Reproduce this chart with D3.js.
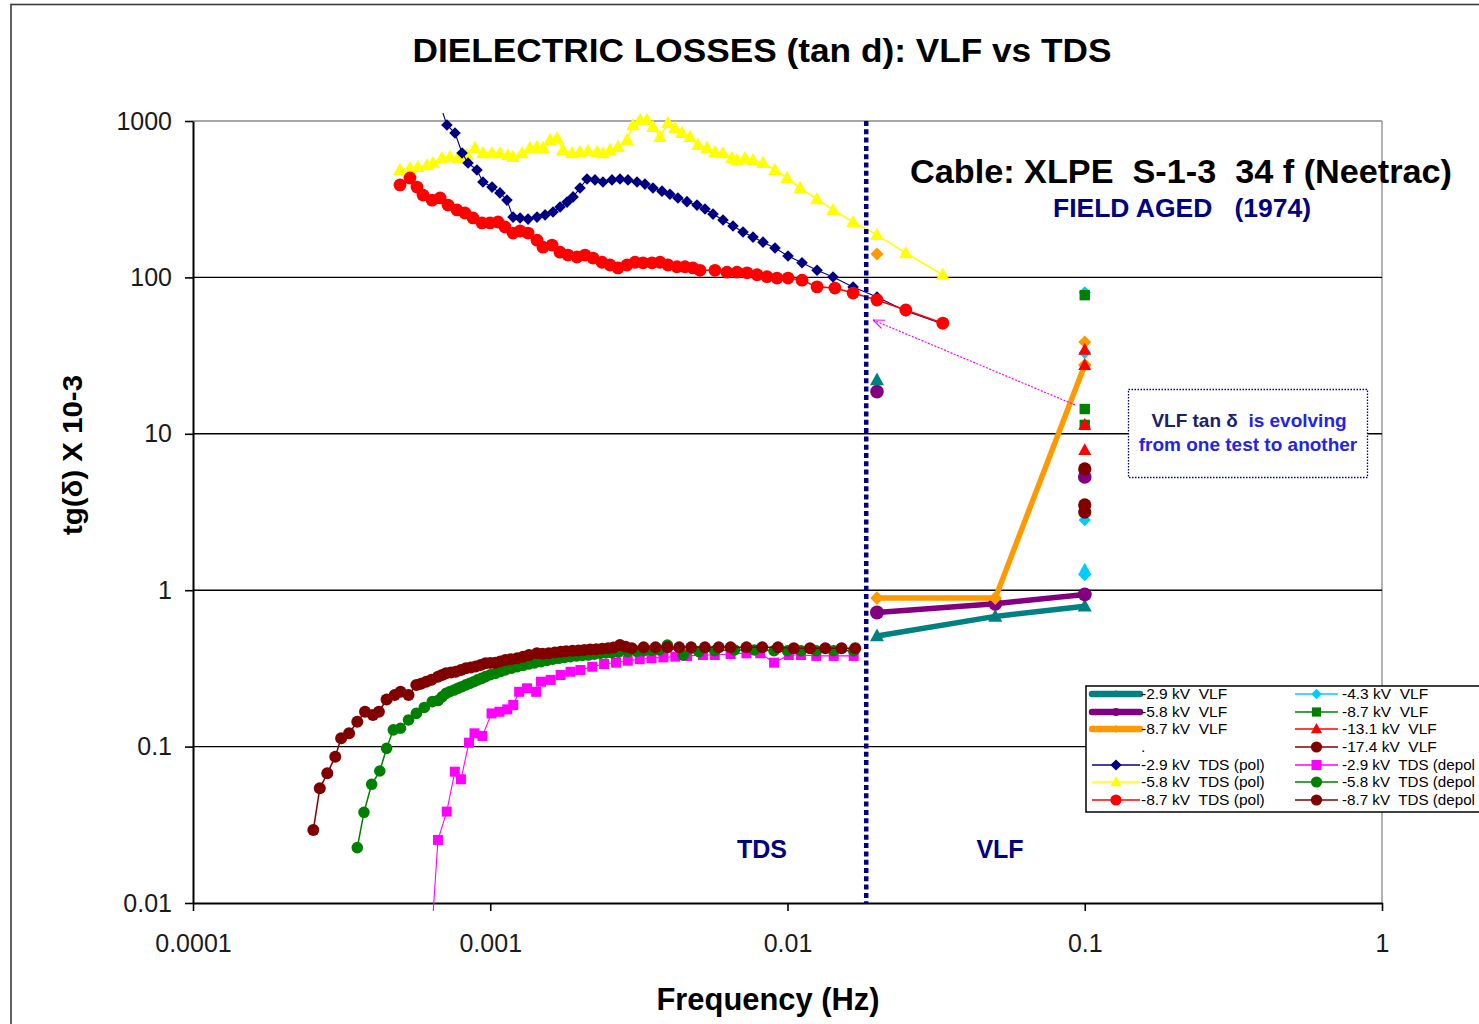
<!DOCTYPE html>
<html>
<head>
<meta charset="utf-8">
<script src="https://cdn.jsdelivr.net/npm/d3@7"></script>
<style>
html, body { margin: 0; padding: 0; background: #fff; }
svg { display: block; font-family: "Liberation Sans", Arial, Helvetica, sans-serif; }
svg text { white-space: pre; }
</style>
</head>
<body>
<svg id="chart" width="1479" height="1024"></svg>
<script>
// ---- Data: [frequency (Hz), tan(delta) x 10^-3] ----

// TDS polarisation
const tdsPol29 = [
  [0.000693,1125],[0.000715,942],[0.000761,838],[0.000804,624],[0.000842,539],[0.000902,486],
  [0.000945,407],[0.001014,378],[0.001078,347],[0.001138,312],[0.001193,243],[0.00126,240],
  [0.00134,236],[0.001437,243],[0.001529,251],[0.001626,262],[0.001717,282],[0.001813,303],
  [0.001899,327],[0.002004,373],[0.002116,426],[0.002251,420],[0.002394,407],[0.002568,420],
  [0.002732,426],[0.002906,420],[0.003117,407],[0.003315,395],[0.003527,373],[0.003782,356],
  [0.004023,340],[0.00428,322],[0.00459,305],[0.00496,290],[0.005278,274],[0.005616,254],
  [0.006067,233],[0.006557,213],[0.007085,195],[0.007655,181],[0.008273,168],[0.009078,154],
  [0.01004,137],[0.01119,124],[0.01257,111],[0.01423,100.7],[0.01662,86.9],[0.02,75],
  [0.025,61],[0.0333,50.4]
];
const tdsPol58 = [
  [0.000497,486],[0.000537,500],[0.000571,508],[0.000613,523],[0.000642,539],[0.000688,580],
  [0.000732,589],[0.000779,580],[0.000835,606],[0.000888,672],[0.000945,624],[0.001014,624],
  [0.001078,624],[0.001147,606],[0.001193,589],[0.001279,624],[0.00136,672],[0.001437,682],
  [0.001505,672],[0.001589,756],[0.001677,778],[0.001757,653],[0.001884,624],[0.002004,634],
  [0.002133,643],[0.002287,634],[0.002394,624],[0.002529,653],[0.00269,682],[0.002884,756],
  [0.003021,942],[0.003191,1015],[0.003368,1015],[0.003527,916],[0.003724,790],[0.003962,971],
  [0.004183,902],[0.004417,838],[0.004699,790],[0.005,703],[0.005361,672],[0.005703,634],
  [0.006067,624],[0.006507,580],[0.006764,563],[0.007194,580],[0.007655,563],[0.008273,539],
  [0.009078,486],[0.00996,432],[0.01102,373],[0.01257,317],[0.01423,270],[0.01662,226],
  [0.02,187],[0.025,143],[0.0333,104]
];
const tdsPol87 = [
  [0.000497,390],[0.000537,432],[0.000567,378],[0.000594,336],[0.000637,312],[0.000678,322],
  [0.000721,290],[0.000773,270],[0.000822,258],[0.000875,240],[0.000938,223],[0.000998,223],
  [0.001062,226],[0.001121,210],[0.001193,192],[0.00126,198],[0.00134,192],[0.001437,173],
  [0.001505,156],[0.001614,161],[0.001717,145],[0.001826,139],[0.001958,135],[0.002084,139],
  [0.002216,133],[0.002377,125],[0.002529,120],[0.00269,115],[0.002884,120],[0.003069,125],
  [0.003265,124],[0.003501,124],[0.003724,125],[0.003962,120],[0.004248,117],[0.004519,117],
  [0.004809,115],[0.005077,111],[0.005703,111],[0.006259,108],[0.006764,108],[0.00731,107],
  [0.0079,104],[0.008532,101],[0.009219,99],[0.01004,99],[0.01119,96],[0.01257,87],
  [0.01444,85.5],[0.01662,79.4],[0.02,71.7],[0.025,61.9],[0.0333,51]
];

// TDS depolarisation
const tdsDepol29 = [
  [0.000643,0.0089],[0.000667,0.0253],[0.000714,0.0384],[0.00076,0.0691],[0.000797,0.0618],
  [0.000848,0.106],[0.000885,0.1216],[0.000941,0.117],[0.00101,0.163],[0.001073,0.167],
  [0.001141,0.173],[0.001195,0.1845],[0.001251,0.224],[0.00133,0.236],[0.001427,0.224],
  [0.001481,0.26],[0.001597,0.267],[0.001725,0.287],[0.001862,0.301],[0.002011,0.309],
  [0.002204,0.324],[0.002415,0.3375],[0.002649,0.344],[0.002902,0.354],[0.003184,0.362],
  [0.003487,0.367],[0.003823,0.372],[0.004193,0.376],[0.004596,0.38],[0.005193,0.385],
  [0.005694,0.385],[0.006435,0.391],[0.007275,0.395],[0.008095,0.395],[0.009009,0.344],
  [0.0101,0.385],[0.0111,0.385],[0.0125,0.38],[0.0143,0.38],[0.0167,0.38]
];
const tdsDepol58 = [
  [0.000357,0.0226],[0.000376,0.038],[0.000399,0.0574],[0.000425,0.0698],[0.000448,0.0975],
  [0.000472,0.128],[0.000499,0.131],[0.000531,0.148],[0.000564,0.163],[0.0006,0.178],
  [0.000638,0.194],[0.000667,0.197],[0.000688,0.208],[0.00071,0.219],[0.000732,0.225],
  [0.000755,0.23],[0.000778,0.236],[0.000802,0.2415],[0.000828,0.248],[0.000853,0.254],
  [0.00088,0.26],[0.000907,0.267],[0.000935,0.273],[0.000964,0.28],[0.001,0.288],
  [0.00104,0.294],[0.00108,0.302],[0.001124,0.309],[0.00118,0.317],[0.001232,0.324],
  [0.00129,0.331],[0.00135,0.3375],[0.00141,0.343],[0.001481,0.349],[0.00155,0.356],
  [0.001623,0.362],[0.0017,0.367],[0.001779,0.372],[0.00186,0.376],[0.001949,0.38],
  [0.00204,0.383],[0.002137,0.385],[0.00224,0.39],[0.002344,0.395],[0.00245,0.397],
  [0.002568,0.399],[0.0027,0.402],[0.002902,0.405],[0.0031,0.408],[0.003281,0.41],
  [0.0035,0.412],[0.003707,0.415],[0.003944,0.446],[0.004458,0.385],[0.005039,0.405],
  [0.005694,0.41],[0.006634,0.415],[0.007732,0.415],[0.009009,0.41],[0.01,0.41],
  [0.0111,0.41],[0.0125,0.41],[0.0143,0.41],[0.0167,0.41]
];
const tdsDepol87 = [
  [0.000254,0.0293],[0.000267,0.0541],[0.000283,0.0675],[0.000301,0.0862],[0.000315,0.113],
  [0.000335,0.1217],[0.000357,0.144],[0.000379,0.167],[0.000403,0.159],[0.000422,0.167],
  [0.000448,0.2],[0.000477,0.214],[0.000499,0.224],[0.000531,0.214],[0.000564,0.248],
  [0.000585,0.252],[0.000609,0.26],[0.000635,0.268],[0.000667,0.28],[0.000688,0.287],
  [0.00071,0.2945],[0.000738,0.298],[0.000766,0.301],[0.000797,0.309],[0.000828,0.317],
  [0.00086,0.321],[0.000893,0.325],[0.000928,0.333],[0.000964,0.341],[0.001,0.343],
  [0.00104,0.344],[0.00108,0.35],[0.001124,0.358],[0.001175,0.362],[0.001232,0.367],
  [0.00129,0.376],[0.00135,0.385],[0.001435,0.395],[0.0015,0.392],[0.001574,0.395],
  [0.00165,0.4],[0.001725,0.404],[0.0018,0.407],[0.001891,0.41],[0.00198,0.412],
  [0.002072,0.415],[0.00217,0.417],[0.002272,0.419],[0.00238,0.422],[0.002492,0.425],
  [0.0026,0.43],[0.00273,0.446],[0.00285,0.435],[0.002994,0.425],[0.003281,0.431],
  [0.003597,0.431],[0.003944,0.431],[0.004322,0.431],[0.004739,0.431],[0.005274,0.431],
  [0.005869,0.431],[0.006435,0.431],[0.007275,0.431],[0.008222,0.431],[0.00929,0.431],
  [0.0105,0.425],[0.0119,0.425],[0.0134,0.425],[0.0152,0.425],[0.0169,0.425]
];

// VLF sweeps (0.02, 0.05, 0.1 Hz)
const vlf29 = [[0.02,0.51],[0.05,0.68],[0.1,0.79]];
const vlf58 = [[0.02,0.72],[0.05,0.82],[0.1,0.94]];
const vlf87 = [[0.02,0.89],[0.05,0.89],[0.1,27.5]];

// Individual VLF tests
const vlf43Points = [[0.1,80],[0.1,33],[0.1,2.81],[0.1,1.25]];
const vlf43Extra = [[0.1,1.35]];
const vlf87Points = [[0.1,77],[0.1,14.4],[0.1,11.4]];
const vlf131Points = [[0.1,34.4],[0.1,27.5],[0.1,11.4],[0.1,7.87]];
const vlf174Points = [[0.1,5.96],[0.1,3.51],[0.1,3.16]];
const vlf87Extra = [[0.02,141],[0.1,38.6]];
const vlf58Extra = [[0.02,18.6],[0.1,5.3]];
const vlf29Extra = [[0.02,22.1]];

// Boundary between TDS and VLF ranges
const boundaryFreq = 0.0184;

// Axis ticks
const xTicks = [0.0001, 0.001, 0.01, 0.1, 1];
const xTickLabels = ["0.0001", "0.001", "0.01", "0.1", "1"];
const yTicks = [0.01, 0.1, 1, 10, 100, 1000];
const yTickLabels = ["0.01", "0.1", "1", "10", "100", "1000"];

// Legend entries
const legendLeft = ["-2.9 kV  VLF", "-5.8 kV  VLF", "-8.7 kV  VLF", ".", "-2.9 kV  TDS (pol)", "-5.8 kV  TDS (pol)", "-8.7 kV  TDS (pol)"];
const legendRight = ["-4.3 kV  VLF", "-8.7 kV  VLF", "-13.1 kV  VLF", "-17.4 kV  VLF", "-2.9 kV  TDS (depol", "-5.8 kV  TDS (depol", "-8.7 kV  TDS (depol"];

// ---- Drawing ----
const svg = d3.select("#chart");
const P = { left: 193, right: 1382, top: 121, bottom: 903 };
const x = d3.scaleLog().domain([1e-4, 1]).range([P.left, P.right]);
const y = d3.scaleLog().domain([0.01, 1000]).range([P.bottom, P.top]);

function markerPath(kind, r) {
  switch (kind) {
    case "diamond": return `M0,${-r}L${r},0L0,${r}L${-r},0Z`;
    case "square": return `M${-r},${-r}H${r}V${r}H${-r}Z`;
    case "triangle": return `M0,${-r * 1.05}L${r},${r * 0.75}L${-r},${r * 0.75}Z`;
    default: return d3.symbol(d3.symbolCircle, Math.PI * r * r)();
  }
}

// chart frame
svg.append("rect").attr("x", 11).attr("y", 4.5).attr("width", 1520).attr("height", 1040)
  .attr("fill", "#fff").attr("stroke", "#3a3a3a").attr("stroke-width", 1.6);

// title
svg.append("text").attr("x", 762).attr("y", 62).attr("text-anchor", "middle")
  .attr("font-size", 34).attr("font-weight", "bold").attr("fill", "#000")
  .attr("textLength", 699).attr("lengthAdjust", "spacingAndGlyphs")
  .text("DIELECTRIC LOSSES (tan d): VLF vs TDS");

// plot border (top/right) and gridlines
svg.append("line").attr("x1", P.left).attr("x2", P.right).attr("y1", P.top).attr("y2", P.top)
  .attr("stroke", "#8a8a8a").attr("stroke-width", 1.3);
svg.append("line").attr("x1", P.right).attr("x2", P.right).attr("y1", P.top).attr("y2", P.bottom)
  .attr("stroke", "#8a8a8a").attr("stroke-width", 1.3);
svg.append("g").selectAll("line").data(yTicks.filter(v => v > 0.01 && v < 1000)).join("line")
  .attr("x1", P.left).attr("x2", P.right)
  .attr("y1", d => y(d)).attr("y2", d => y(d))
  .attr("stroke", "#000").attr("stroke-width", 1.4);

// axes
const yAxis = svg.append("g").attr("transform", `translate(${P.left},0)`)
  .call(d3.axisLeft(y).tickValues(yTicks).tickFormat((d, i) => yTickLabels[i])
    .tickSize(8).tickSizeOuter(0).tickPadding(13));
const xAxis = svg.append("g").attr("transform", `translate(0,${P.bottom})`)
  .call(d3.axisBottom(x).tickValues(xTicks).tickFormat((d, i) => xTickLabels[i])
    .tickSize(8).tickSizeOuter(0).tickPadding(23));
[yAxis, xAxis].forEach(g => {
  g.attr("font-family", null).attr("font-size", 25).attr("color", "#000");
  g.select(".domain").attr("stroke-width", 2);
  g.selectAll(".tick line").attr("stroke-width", 1.6);
  g.selectAll(".tick text").attr("fill", "#1a1a1a");
});

// axis titles
svg.append("text").attr("x", 768).attr("y", 1010).attr("text-anchor", "middle")
  .attr("font-size", 31).attr("font-weight", "bold")
  .attr("textLength", 223).attr("lengthAdjust", "spacingAndGlyphs")
  .text("Frequency (Hz)");
svg.append("text").attr("transform", "translate(82,455) rotate(-90)").attr("text-anchor", "middle")
  .attr("font-size", 27).attr("font-weight", "bold")
  .attr("textLength", 160).attr("lengthAdjust", "spacingAndGlyphs")
  .text("tg(\u03b4) X 10-3");

// series styles
const tdsSeries = [
  { data: tdsPol58, color: "#FFFF00", marker: "triangle", r: 6.8, lw: 1.6 },
  { data: tdsPol29, color: "#000080", marker: "diamond", r: 5.8, lw: 1.1 },
  { data: tdsPol87, color: "#FF0000", marker: "circle", r: 6.4, lw: 1.6 },
  { data: tdsDepol29, color: "#FF00FF", marker: "square", r: 5, lw: 1.1 },
  { data: tdsDepol58, color: "#008000", marker: "circle", r: 5.8, lw: 1.5 },
  { data: tdsDepol87, color: "#800000", marker: "circle", r: 6, lw: 1.5 }
];
const vlfLines = [
  { data: vlf29, color: "#008080", marker: "triangle", r: 7, lw: 5.5 },
  { data: vlf58, color: "#800080", marker: "circle", r: 7, lw: 5.5 },
  { data: vlf87, color: "#FF9900", marker: "diamond", r: 6.8, lw: 5.5 }
];
const vlfSingles = [
  { data: vlf43Points, color: "#00CCFF", marker: "diamond", r: 6.2 },
  { data: vlf43Extra, color: "#00CCFF", marker: "triangle", r: 6.8 },
  { data: vlf87Points, color: "#008000", marker: "square", r: 5.2 },
  { data: vlf87Extra, color: "#FF9900", marker: "diamond", r: 6.5 },
  { data: vlf58Extra, color: "#800080", marker: "circle", r: 6.8 },
  { data: vlf29Extra, color: "#008080", marker: "triangle", r: 7 },
  { data: vlf131Points, color: "#FF0000", marker: "triangle", r: 6.5 },
  { data: vlf174Points, color: "#800000", marker: "circle", r: 6.6 }
];

const line = d3.line().x(d => x(d[0])).y(d => y(d[1]));
const inRange = d => d[1] >= 0.0098 && d[1] <= 1050;

function drawSeries(s, withLine) {
  const g = svg.append("g");
  if (withLine) {
    g.append("path").attr("d", line(s.data)).attr("fill", "none")
      .attr("stroke", s.color).attr("stroke-width", s.lw).attr("stroke-linejoin", "round");
  }
  g.selectAll("path.m").data(s.data.filter(inRange)).join("path").attr("class", "m")
    .attr("transform", d => `translate(${x(d[0])},${y(d[1])})`)
    .attr("d", markerPath(s.marker, s.r)).attr("fill", s.color);
}

tdsSeries.forEach(s => drawSeries(s, true));

// TDS / VLF boundary
svg.append("line").attr("x1", x(boundaryFreq)).attr("x2", x(boundaryFreq))
  .attr("y1", P.top).attr("y2", P.bottom)
  .attr("stroke", "#000080").attr("stroke-width", 4.5).attr("stroke-dasharray", "5,3.3");

vlfLines.forEach(s => drawSeries(s, true));
vlfSingles.forEach(s => drawSeries(s, false));

// region labels
[["TDS", 762], ["VLF", 1000]].forEach(([t, cx]) => {
  svg.append("text").attr("x", cx).attr("y", 858).attr("text-anchor", "middle")
    .attr("font-size", 25).attr("font-weight", "bold").attr("fill", "#000080").text(t);
});

// cable info
svg.append("text").attr("x", 1181).attr("y", 183).attr("text-anchor", "middle")
  .attr("font-size", 34).attr("font-weight", "bold").attr("fill", "#000")
  .attr("textLength", 542).attr("lengthAdjust", "spacingAndGlyphs")
  .text("Cable: XLPE  S-1-3  34 f (Neetrac)");
svg.append("text").attr("x", 1182).attr("y", 217).attr("text-anchor", "middle")
  .attr("font-size", 26).attr("font-weight", "bold").attr("fill", "#000080")
  .attr("textLength", 258).attr("lengthAdjust", "spacingAndGlyphs")
  .text("FIELD AGED   (1974)");

// annotation arrow
const a0 = [x(0.0927), y(15.3)], a1 = [x(0.0194), y(53.4)];
svg.append("line").attr("x1", a0[0]).attr("y1", a0[1]).attr("x2", a1[0]).attr("y2", a1[1])
  .attr("stroke", "#FF00FF").attr("stroke-width", 1.2).attr("stroke-dasharray", "2,1.5");
{
  const ang = Math.atan2(a0[1] - a1[1], a0[0] - a1[0]);
  [0.38, -0.38].forEach(da => {
    svg.append("line").attr("x1", a1[0]).attr("y1", a1[1])
      .attr("x2", a1[0] + 12 * Math.cos(ang + da)).attr("y2", a1[1] + 12 * Math.sin(ang + da))
      .attr("stroke", "#FF00FF").attr("stroke-width", 1.2);
  });
}

// annotation box
svg.append("rect").attr("x", 1128.5).attr("y", 389.5).attr("width", 239).attr("height", 88)
  .attr("fill", "#fff").attr("stroke", "#000080").attr("stroke-width", 1.3).attr("stroke-dasharray", "1.5,1.5");
const note1 = svg.append("text").attr("x", 1249).attr("y", 427).attr("text-anchor", "middle")
  .attr("font-size", 19).attr("font-weight", "bold");
note1.append("tspan").attr("fill", "#20206a").text("VLF tan \u03b4 ");
note1.append("tspan").attr("fill", "#2424e8").text(" is evolving");
svg.append("text").attr("x", 1248).attr("y", 451).attr("text-anchor", "middle")
  .attr("font-size", 19).attr("font-weight", "bold").attr("fill", "#2424e8")
  .text("from one test to another");

// legend
const lg = svg.append("g");
lg.append("rect").attr("x", 1086).attr("y", 686).attr("width", 440).attr("height", 126)
  .attr("fill", "#fff").attr("stroke", "#000").attr("stroke-width", 1.5);
const rowY = [694, 712, 729, 747, 765, 782, 800];
const leftKeys = [vlfLines[0], vlfLines[1], vlfLines[2], null, tdsSeries[1], tdsSeries[0], tdsSeries[2]];
const rightKeys = [
  { color: "#00CCFF", marker: "diamond", r: 5.2, lw: 1.3 },
  { color: "#008000", marker: "square", r: 4.6, lw: 1.3 },
  { color: "#FF0000", marker: "triangle", r: 5.6, lw: 1.3 },
  { color: "#800000", marker: "circle", r: 5.6, lw: 1.3 },
  tdsSeries[3], tdsSeries[4], tdsSeries[5]
];
function legendColumn(labels, keys, x0, x1, tx, maxW) {
  labels.forEach((label, i) => {
    const k = keys[i], yy = rowY[i];
    if (k) {
      const thick = k.lw > 3;
      lg.append("line").attr("x1", x0).attr("x2", x1).attr("y1", yy).attr("y2", yy)
        .attr("stroke", k.color).attr("stroke-width", thick ? 6.5 : 1.5)
        .attr("stroke-linecap", thick ? "round" : "butt");
      lg.append("path").attr("transform", `translate(${(x0 + x1) / 2},${yy})`)
        .attr("d", markerPath(k.marker, thick ? 4 : Math.min(k.r, 5.6))).attr("fill", k.color);
    }
    const t = lg.append("text").attr("x", tx).attr("y", yy + 5).attr("font-size", 15.5)
      .attr("fill", "#000").text(label);
    if (maxW && t.node().getComputedTextLength() > maxW) {
      t.attr("textLength", maxW).attr("lengthAdjust", "spacingAndGlyphs");
    }
  });
}
legendColumn(legendLeft, leftKeys, 1092, 1140, 1141);
legendColumn(legendRight, rightKeys, 1295, 1338, 1342, 133);
</script>
</body>
</html>
